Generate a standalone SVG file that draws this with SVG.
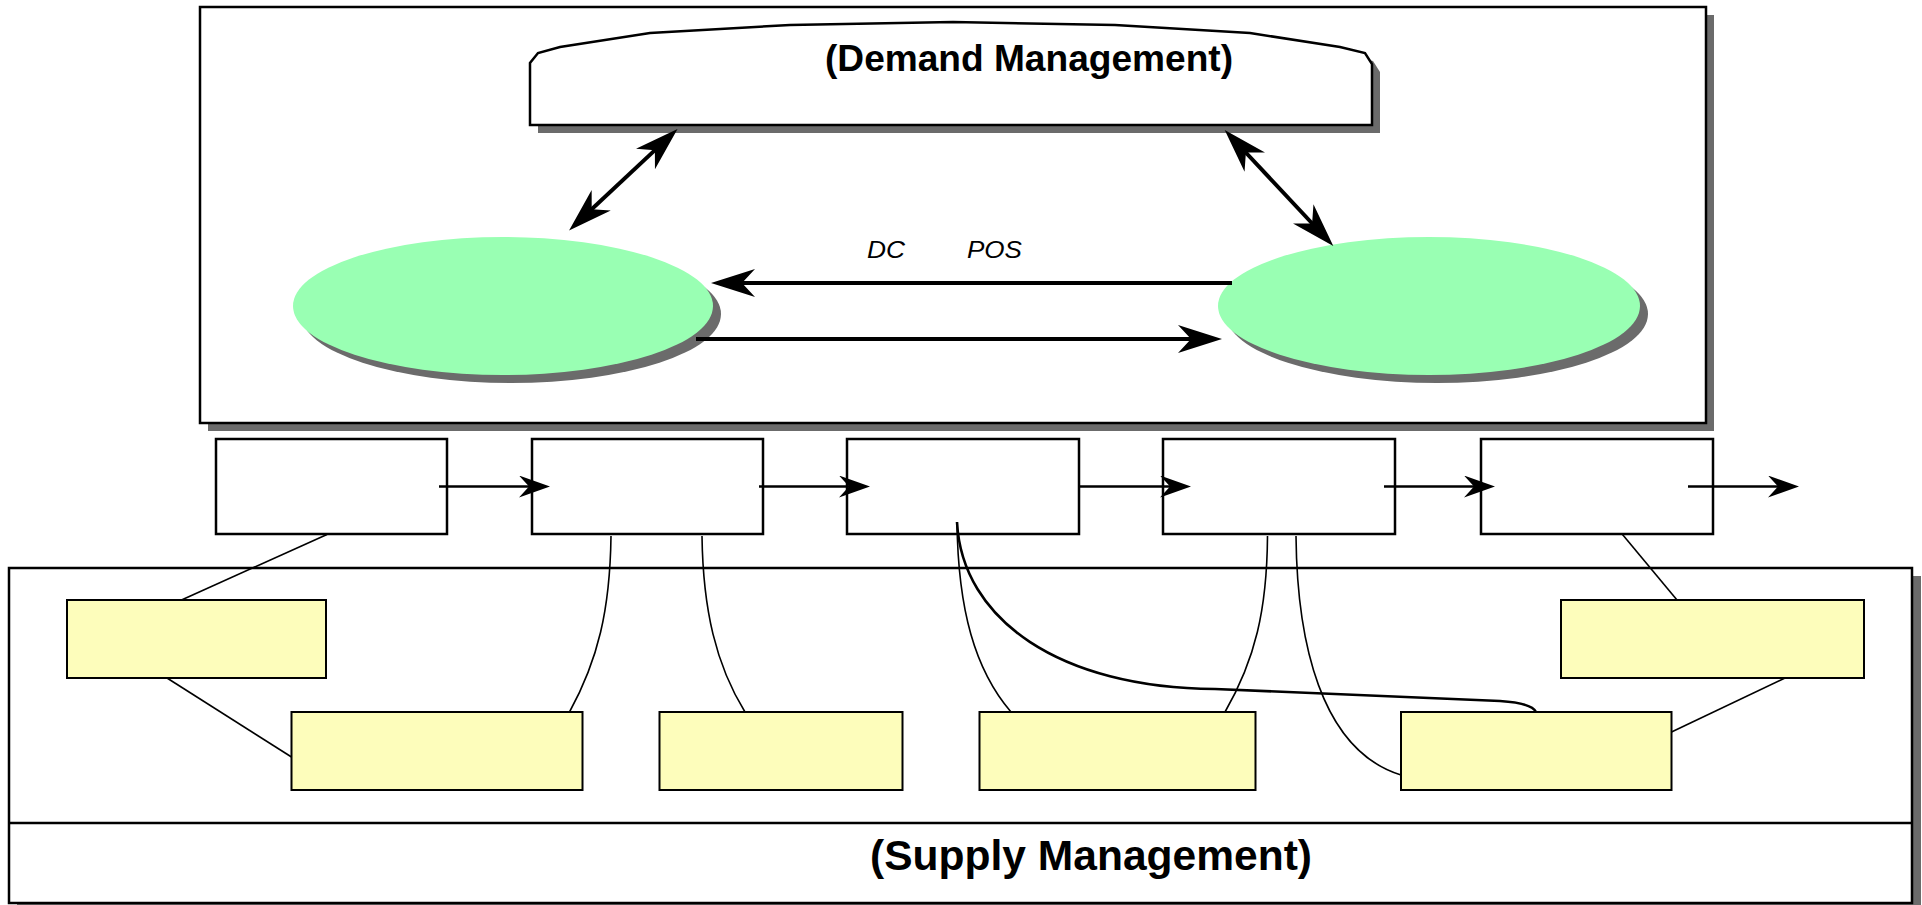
<svg xmlns="http://www.w3.org/2000/svg" width="1922" height="905" viewBox="0 0 1922 905">
<style>
.shadow{fill:#6b6b6b;stroke:none}
.frame{fill:#ffffff;stroke:#000000;stroke-width:2.5}
.proc{fill:#ffffff;stroke:#000000;stroke-width:2.5}
.note{fill:#fdfdbb;stroke:#000000;stroke-width:2}
.ell{fill:#99ffb3;stroke:none}
.thin{fill:none;stroke:#000000;stroke-width:1.6}
.thick{fill:none;stroke:#000000;stroke-width:2.6}
.big{fill:none;stroke:#000000;stroke-width:4}
.flow{fill:none;stroke:#000000;stroke-width:2.5}
.title{font-family:"Liberation Sans",Arial,sans-serif;font-weight:bold;fill:#000000}
.lbl{font-family:"Liberation Sans",Arial,sans-serif;font-style:italic;fill:#000000}
</style>
<defs>
<marker id="bigArrow" viewBox="0 0 44 28" refX="20" refY="14" markerWidth="44" markerHeight="28" markerUnits="userSpaceOnUse" orient="auto-start-reverse">
<path d="M44,14 L0,0 L13,14 L0,28 Z" fill="#000000"/>
</marker>
<marker id="smallArrow" viewBox="0 0 31 22" refX="14" refY="11" markerWidth="31" markerHeight="22" markerUnits="userSpaceOnUse" orient="auto">
<path d="M31,11 L0,0 L10,11 L0,22 Z" fill="#000000"/>
</marker>
</defs>

<g id="demand-frame">
<rect class="shadow" x="208" y="15" width="1506" height="416"/>
<rect class="frame" x="200" y="7" width="1506" height="416"/>
</g>

<g id="supply-frame">
<rect class="shadow" x="17" y="576" width="1904" height="335"/>
<rect class="frame" x="9" y="568" width="1903" height="335"/>
<line x1="9" y1="823" x2="1912" y2="823" stroke="#000000" stroke-width="2.5"/>
<text class="title" x="870" y="870" font-size="42" textLength="442" lengthAdjust="spacingAndGlyphs">(Supply Management)</text>
</g>

<g id="demand-management">
<path class="shadow" d="M538,133 L538,71 L546,61 L568,55 L658,41 L798,33 L961,30 L1123,33 L1258,41 L1348,55 L1373,61 L1380,72 L1380,133 Z"/>
<path class="frame" d="M530,125 L530,63 L538,53 L560,47 L650,33 L790,25 L953,22 L1115,25 L1250,33 L1340,47 L1365,53 L1372,64 L1372,125 Z"/>
<text class="title" x="825" y="71" font-size="36" textLength="408" lengthAdjust="spacingAndGlyphs">(Demand Management)</text>
</g>

<g id="ellipse-left">
<ellipse class="shadow" cx="511" cy="314" rx="210" ry="69"/>
<ellipse class="ell" cx="503" cy="306" rx="210" ry="69"/>
</g>

<g id="ellipse-right">
<ellipse class="shadow" cx="1437" cy="314" rx="211" ry="69"/>
<ellipse class="ell" cx="1429" cy="306" rx="211" ry="69"/>
</g>

<g id="process-1"><rect class="proc" x="216" y="439" width="231" height="95"/></g>
<g id="process-2"><rect class="proc" x="532" y="439" width="231" height="95"/></g>
<g id="process-3"><rect class="proc" x="847" y="439" width="232" height="95"/></g>
<g id="process-4"><rect class="proc" x="1163" y="439" width="232" height="95"/></g>
<g id="process-5"><rect class="proc" x="1481" y="439" width="232" height="95"/></g>

<g id="connectors">
<line class="big" x1="660" y1="145.4" x2="586.6" y2="214" marker-start="url(#bigArrow)" marker-end="url(#bigArrow)"/>
<line class="big" x1="1241.1" y1="147.5" x2="1316.9" y2="228.5" marker-start="url(#bigArrow)" marker-end="url(#bigArrow)"/>
<line class="big" x1="1232" y1="283" x2="735" y2="283" marker-end="url(#bigArrow)"/>
<line class="big" x1="696" y1="339" x2="1198" y2="339" marker-end="url(#bigArrow)"/>

<line class="flow" x1="439" y1="486.5" x2="533" y2="486.5" marker-end="url(#smallArrow)"/>
<line class="flow" x1="759" y1="486.5" x2="853" y2="486.5" marker-end="url(#smallArrow)"/>
<line class="flow" x1="1079" y1="486.5" x2="1174" y2="486.5" marker-end="url(#smallArrow)"/>
<line class="flow" x1="1384" y1="486.5" x2="1478" y2="486.5" marker-end="url(#smallArrow)"/>
<line class="flow" x1="1688" y1="486.5" x2="1782" y2="486.5" marker-end="url(#smallArrow)"/>

<line class="thin" x1="327" y1="534.5" x2="181.5" y2="600"/>
<line class="thin" x1="167" y1="678" x2="291.5" y2="757"/>
<path class="thin" d="M611,536 C610,610 598,660 569.5,712"/>
<path class="thin" d="M702,536 C703,610 716,665 745,712"/>
<path class="thin" d="M957,522 C958,610 975,670 1011,712"/>
<path class="thick" d="M957,522 C962,620 1060,688 1215,689 L1500,701 Q1532,703 1536,712"/>
<path class="thin" d="M1267.5,536 C1267,610 1255,660 1225,712"/>
<path class="thin" d="M1296,536 C1297,640 1320,750 1401,775"/>
<line class="thin" x1="1622.5" y1="534.5" x2="1677" y2="600"/>
<line class="thin" x1="1785" y1="678" x2="1671.5" y2="732"/>
</g>

<g id="note-1"><rect class="note" x="67" y="600" width="259" height="78"/></g>
<g id="note-2"><rect class="note" x="291.5" y="712" width="291" height="78"/></g>
<g id="note-3"><rect class="note" x="659.5" y="712" width="243" height="78"/></g>
<g id="note-4"><rect class="note" x="979.5" y="712" width="276" height="78"/></g>
<g id="note-5"><rect class="note" x="1401" y="712" width="270.5" height="78"/></g>
<g id="note-6"><rect class="note" x="1561" y="600" width="303" height="78"/></g>

<g id="labels">
<text class="lbl" x="867" y="258" font-size="23" textLength="38" lengthAdjust="spacingAndGlyphs">DC</text>
<text class="lbl" x="967" y="258" font-size="23" textLength="55" lengthAdjust="spacingAndGlyphs">POS</text>
</g>
</svg>
